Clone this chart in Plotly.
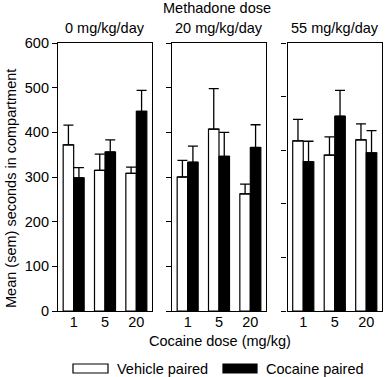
import plotly.graph_objects as go

# ---- data ----
cocaine_doses = ["1", "5", "20"]
methadone_doses = ["0 mg/kg/day", "20 mg/kg/day", "55 mg/kg/day"]
vehicle_mean = [[372, 315, 308], [300, 407, 262], [381, 349, 383]]
vehicle_sem = [[44, 36, 14], [37, 91, 22], [48, 41, 36]]
cocaine_mean = [[298, 356, 447], [333, 346, 366], [334, 436, 354]]
cocaine_sem = [[23, 27, 47], [36, 54, 51], [46, 58, 50]]
series_names = ["Vehicle paired", "Cocaine paired"]
y_tick_labels = ["0", "100", "200", "300", "400", "500", "600"]

W, H = 385, 377
FONT = "Liberation Sans, Arial, sans-serif"
FS = 14.5


def px(x):
    return x / W


def py(y):
    return 1 - y / H


panel_x = [(58, 152), (172, 266), (287.5, 382)]
y_top, y_bot = 43, 311

fig = go.Figure()
for i in range(3):
    sfx = "" if i == 0 else str(i + 1)
    fig.add_trace(go.Bar(
        x=cocaine_doses, y=vehicle_mean[i], name=series_names[0],
        xaxis="x" + sfx, yaxis="y" + sfx, showlegend=False,
        marker=dict(color="white", line=dict(color="black", width=1.2)),
        error_y=dict(type="data", array=vehicle_sem[i], symmetric=False,
                     arrayminus=[0, 0, 0], color="black", thickness=1.3, width=5),
    ))
    fig.add_trace(go.Bar(
        x=cocaine_doses, y=cocaine_mean[i], name=series_names[1],
        xaxis="x" + sfx, yaxis="y" + sfx, showlegend=False,
        marker=dict(color="black", line=dict(color="black", width=1.2)),
        error_y=dict(type="data", array=cocaine_sem[i], symmetric=False,
                     arrayminus=[0, 0, 0], color="black", thickness=1.3, width=5),
    ))

layout = dict(
    width=W, height=H, margin=dict(l=0, r=0, t=0, b=0, autoexpand=False),
    paper_bgcolor="white", plot_bgcolor="white",
    barmode="group", bargap=0.33, bargroupgap=0,
    font=dict(family=FONT, size=FS, color="black"),
    showlegend=False,
)
for i in range(3):
    sfx = "" if i == 0 else str(i + 1)
    x0, x1 = panel_x[i]
    layout["xaxis" + sfx] = dict(
        domain=[px(x0), px(x1)], anchor="y" + sfx, type="category",
        range=[-0.5, 2.5], showline=True, linecolor="black", linewidth=1.2,
        mirror=True, ticks="", showgrid=False, zeroline=False,
        tickfont=dict(size=FS), ticklabelstandoff=-3, automargin=False,
    )
    ydict = dict(
        domain=[py(y_bot), py(y_top)], anchor="x" + sfx, range=[0, 600],
        showline=True, linecolor="black", linewidth=1.2, mirror=True,
        ticks="outside", ticklen=5, tickwidth=1.2, tickcolor="black",
        showgrid=False, zeroline=False, automargin=False,
    )
    if i == 0:
        ydict.update(tickvals=[int(v) for v in y_tick_labels], ticktext=y_tick_labels,
                     tickfont=dict(size=FS))
    elif i == 1:
        ydict.update(tickvals=[int(v) for v in y_tick_labels], showticklabels=False)
    else:
        ydict.update(tickvals=[0, 120, 240, 360, 480, 600], showticklabels=False)
    layout["yaxis" + sfx] = ydict

annotations = [
    dict(text="Methadone dose", x=px(217), y=py(8), xref="paper", yref="paper",
         showarrow=False, xanchor="center", yanchor="middle", font=dict(size=FS)),
    dict(text="Cocaine dose (mg/kg)", x=px(220), y=py(341), xref="paper", yref="paper",
         showarrow=False, xanchor="center", yanchor="middle", font=dict(size=FS)),
    dict(text="Mean (sem) seconds in compartment", x=px(11), y=py(189), xref="paper",
         yref="paper", showarrow=False, textangle=-90, xanchor="center",
         yanchor="middle", font=dict(size=FS)),
    dict(text="*", x=cocaine_doses[2], y=cocaine_mean[0][2] + cocaine_sem[0][2],
         xref="x", yref="y", xshift=5, yshift=8, showarrow=False,
         yanchor="bottom", font=dict(size=FS)),
]
for i in range(3):
    x0, x1 = panel_x[i]
    annotations.append(dict(text=methadone_doses[i], x=px((x0 + x1) / 2), y=py(28),
                            xref="paper", yref="paper", showarrow=False,
                            xanchor="center", yanchor="middle", font=dict(size=FS)))

# legend drawn manually
shapes = [
    dict(type="rect", xref="paper", yref="paper", x0=px(73), x1=px(108),
         y0=py(373), y1=py(364), fillcolor="white", line=dict(color="black", width=1.2)),
    dict(type="rect", xref="paper", yref="paper", x0=px(223), x1=px(257),
         y0=py(373), y1=py(364), fillcolor="black", line=dict(color="black", width=1.2)),
]
annotations.append(dict(text=series_names[0], x=px(115), y=py(368.5), xref="paper",
                        yref="paper", showarrow=False, xanchor="left", yanchor="middle",
                        font=dict(size=FS)))
annotations.append(dict(text=series_names[1], x=px(264), y=py(368.5), xref="paper",
                        yref="paper", showarrow=False, xanchor="left", yanchor="middle",
                        font=dict(size=FS)))

layout["annotations"] = annotations
layout["shapes"] = shapes
fig.update_layout(**layout)
fig.write_html("out.html", config={"displayModeBar": False},
               post_script="document.body.style.margin='0';document.body.style.overflow='hidden';")
